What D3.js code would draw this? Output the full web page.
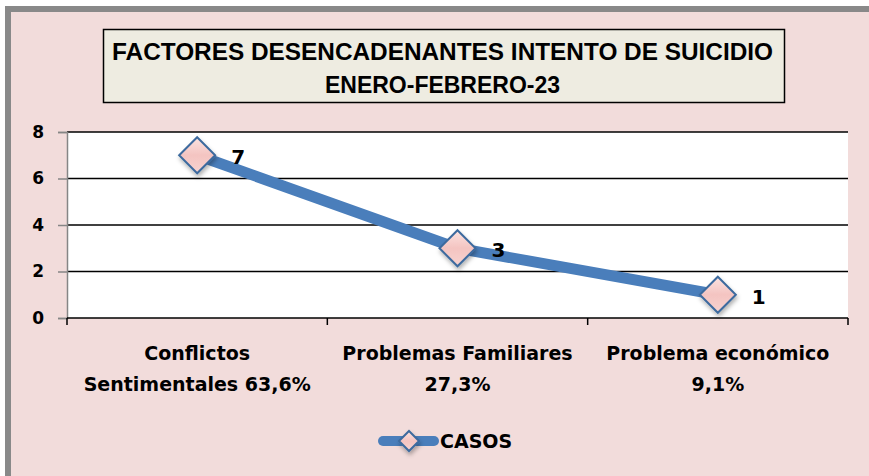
<!DOCTYPE html>
<html><head><meta charset="utf-8">
<script src="https://cdn.jsdelivr.net/npm/d3@7"></script>
<style>html,body{margin:0;padding:0;background:#fff;}svg{display:block;}</style>
</head><body>
<svg id="c" width="869" height="476"></svg>
<script>
const categories = [["Conflictos","Sentimentales 63,6%"],["Problemas Familiares","27,3%"],["Problema económico","9,1%"]];
const values = [7, 3, 1];
const yTicks = [0, 2, 4, 6, 8];
const titleLines = ["FACTORES DESENCADENANTES INTENTO DE SUICIDIO", "ENERO-FEBRERO-23"];
const seriesName = "CASOS";

(function(){
const svg = d3.select("#c");
const font = "'DejaVu Sans', sans-serif";
const defs = svg.append("defs");
const g1 = defs.append("linearGradient").attr("id","mk").attr("x1",0).attr("y1",0).attr("x2",0).attr("y2",1);
g1.append("stop").attr("offset","0%").attr("stop-color","#FBE3E1");
g1.append("stop").attr("offset","50%").attr("stop-color","#F4C4C1");
g1.append("stop").attr("offset","100%").attr("stop-color","#F7D3D0");
const f = defs.append("filter").attr("id","sh").attr("x","-50%").attr("y","-50%").attr("width","200%").attr("height","200%");
f.append("feDropShadow").attr("dx",1).attr("dy",3).attr("stdDeviation",2).attr("flood-color","#000").attr("flood-opacity",0.3);

// outer frame
svg.append("rect").attr("x",8).attr("y",9).attr("width",880).attr("height",480).attr("fill","#F2DCDB").attr("stroke","#898989").attr("stroke-width",6);

// title box
svg.append("rect").attr("x",103.5).attr("y",29.5).attr("width",681).attr("height",73).attr("fill","#EEECE1").attr("stroke","#000").attr("stroke-width",1.5);
const tl = [[112,773,60],[325,560,93]];
titleLines.forEach((t,i)=>{
  svg.append("text").attr("x",(tl[i][0]+tl[i][1])/2).attr("y",tl[i][2]).attr("text-anchor","middle")
    .attr("font-family","'Liberation Sans', Arial, sans-serif").attr("font-weight","bold").attr("font-size",23.5)
    .attr("textLength",tl[i][1]-tl[i][0]).attr("lengthAdjust","spacingAndGlyphs").attr("fill","#000").text(t);
});

const pL = 67, pR = 848, pT = 132, pB = 318;
const x = d3.scaleBand().domain(d3.range(categories.length)).range([pL, pR]);
const y = d3.scaleLinear().domain([0, 8]).range([pB, pT]);

svg.append("rect").attr("x",pL).attr("y",pT).attr("width",pR-pL).attr("height",pB-pT).attr("fill","#fff");

// gridlines
svg.append("g").selectAll("line").data(yTicks.filter(d=>d>0)).join("line")
  .attr("x1",pL).attr("x2",pR).attr("y1",d=>y(d)).attr("y2",d=>y(d)).attr("stroke","#000").attr("stroke-width",1.5);

// y axis
const ya = svg.append("g").attr("transform",`translate(${pL},0)`).call(d3.axisLeft(y).tickValues(yTicks).tickSize(9).tickPadding(14));
ya.select(".domain").attr("stroke","#868686").attr("stroke-width",1.5);
ya.selectAll(".tick line").attr("stroke","#868686").attr("stroke-width",1.5);
ya.selectAll("text").attr("font-family",font).attr("font-weight","bold").attr("font-size",17).attr("fill","#000").attr("dy","0.3em");

// x axis
svg.append("line").attr("x1",pL).attr("x2",pR).attr("y1",pB).attr("y2",pB).attr("stroke","#000").attr("stroke-width",1.5);
svg.append("g").selectAll("line").data(d3.range(categories.length+1)).join("line")
  .attr("x1",d=>pL + d*x.bandwidth()).attr("x2",d=>pL + d*x.bandwidth())
  .attr("y1",pB).attr("y2",pB+7).attr("stroke","#000").attr("stroke-width",1.5);
categories.forEach((c,i)=>{
  const t = svg.append("text").attr("x",x(i)+x.bandwidth()/2).attr("text-anchor","middle")
    .attr("font-family",font).attr("font-weight","bold").attr("font-size",19).attr("fill","#000");
  c.forEach((ln,j)=>t.append("tspan").attr("x",x(i)+x.bandwidth()/2).attr("y",360+j*31).text(ln));
});

// line
const cx = i => x(i)+x.bandwidth()/2;
svg.append("path").datum(values).attr("d",d3.line().x((d,i)=>cx(i)).y(d=>y(d)))
  .attr("fill","none").attr("stroke","#4A7EBB").attr("stroke-width",11).attr("stroke-linejoin","round");

function diamond(sel, r){
  sel.attr("d",`M0,${-r}L${r},0L0,${r}L${-r},0Z`).attr("fill","url(#mk)").attr("stroke","#3C6A9E").attr("stroke-width",2).attr("filter","url(#sh)");
}
svg.append("g").selectAll("path").data(values).join("path")
  .attr("transform",(d,i)=>`translate(${cx(i)},${y(d)})`).call(diamond,18);

svg.append("g").selectAll("text").data(values).join("text")
  .attr("x",(d,i)=>cx(i)+34).attr("y",d=>y(d)+9)
  .attr("font-family",font).attr("font-weight","bold").attr("font-size",20).attr("fill","#000").text(d=>d);

// legend
svg.append("line").attr("x1",383).attr("x2",434).attr("y1",441).attr("y2",441).attr("stroke","#4A7EBB").attr("stroke-width",10).attr("stroke-linecap","round");
svg.append("path").attr("transform","translate(409,441)").call(diamond,10);
svg.append("text").attr("x",440).attr("y",448).attr("font-family",font).attr("font-weight","bold").attr("font-size",19).attr("fill","#000").text(seriesName);
})();
</script>
</body></html>
